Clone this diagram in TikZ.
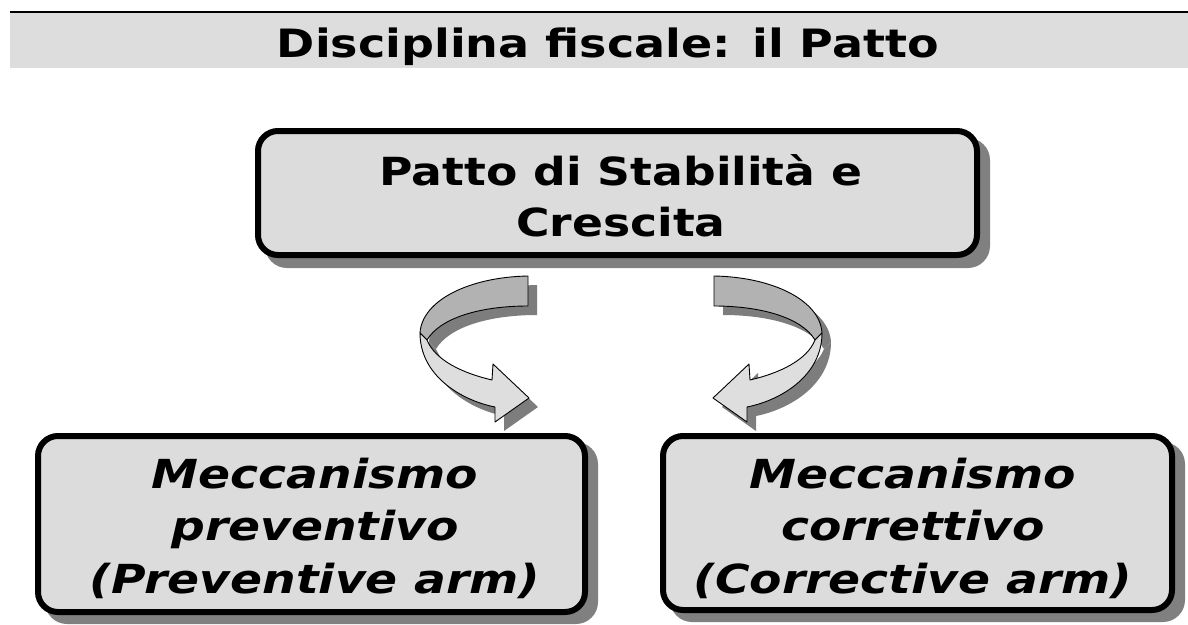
\documentclass[tikz,border=0pt]{standalone}
\usepackage{fontspec}
\setmainfont{DejaVu Sans}[FakeStretch=1.18]
\definecolor{boxgray}{RGB}{220,220,220}
\definecolor{bandgray}{RGB}{221,221,221}
\definecolor{shadowgray}{RGB}{128,128,128}
\definecolor{ribdark}{RGB}{178,178,178}
\definecolor{riblight}{RGB}{222,222,222}
\definecolor{ribshadow}{RGB}{125,125,125}
\begin{document}
\begin{tikzpicture}[x=1pt,y=-1pt,
  boxstyle/.style={draw=black, line width=6pt, rectangle, rounded corners=20pt, fill=boxgray, inner sep=0pt},
  shadowbox/.style={fill=shadowgray, rectangle, rounded corners=22pt, inner sep=0pt},
  titletext/.style={font=\fontsize{39}{46}\selectfont\bfseries, anchor=base, inner sep=0pt},
  toptext/.style={font=\fontsize{38.7}{46}\selectfont\bfseries, anchor=base, inner sep=0pt},
  bottext/.style={font=\fontsize{40}{48}\selectfont\bfseries\itshape, anchor=base, inner sep=0pt},
  ribsh/.style={fill=ribshadow, shift={(9,9)}},
  ribd/.style={fill=ribdark, draw=black, line width=0.9pt, line join=round},
  ribl/.style={fill=riblight, draw=black, line width=0.9pt, line join=round}]
\useasboundingbox (0,0) rectangle (1188,624);

% title band
\fill[bandgray] (10,13) rectangle (1188,68);
\draw[line width=2.5pt] (10,12) -- (1188,12);
\node[titletext] (title) at (608,57) {Disciplina fiscale: il Patto};

% shadows
\node[shadowbox, minimum width=725pt, minimum height=130pt] (topsh) at (627.5,203) {};
\node[shadowbox, minimum width=553pt, minimum height=182pt] (leftsh) at (321.5,533) {};
\node[shadowbox, minimum width=515pt, minimum height=180pt] (rightsh) at (927.5,532) {};

% boxes
\node[boxstyle, minimum width=719pt, minimum height=124pt] (top) at (617.5,193) {};
\node[boxstyle, minimum width=547pt, minimum height=176pt] (left) at (311.5,524) {};
\node[boxstyle, minimum width=509pt, minimum height=174pt] (right) at (917.5,523) {};

% texts
\node[toptext] (top1) at (621,185) {Patto di Stabilità e};
\node[toptext] (top2) at (621,236) {Crescita};
\node[bottext] (left1) at (315,488) {Meccanismo};
\node[bottext] (left2) at (315,540) {preventivo};
\node[bottext] (left3) at (315,593) {(Preventive arm)};
\node[bottext] (right1) at (913,488) {Meccanismo};
\node[bottext] (right2) at (913,540) {correttivo};
\node[bottext] (right3) at (913,593) {(Corrective arm)};

% left curved arrow
\fill[ribsh] (528,276) .. controls (470,277) and (422,300) .. (420,333) -- (427,340) .. controls (440,318) and (480,306) .. (528,306) -- cycle;
\fill[ribsh] (420,333) .. controls (420,375) and (460,400) .. (495,407) -- (495,422) -- (529,398) -- (493,364) -- (492,380) .. controls (462,373) and (435,360) .. (427,340) -- cycle;
\filldraw[ribd] (528,276) .. controls (470,277) and (422,300) .. (420,333) -- (427,340) .. controls (440,318) and (480,306) .. (528,306) -- cycle;
\filldraw[ribl] (420,333) .. controls (420,375) and (460,400) .. (495,407) -- (495,422) -- (529,398) -- (493,364) -- (492,380) .. controls (462,373) and (435,360) .. (427,340) -- cycle;

% right curved arrow
\fill[ribsh] (714,276) .. controls (772,277) and (820,300) .. (822,333) -- (815,340) .. controls (802,318) and (762,306) .. (714,306) -- cycle;
\fill[ribsh] (822,333) .. controls (822,375) and (782,400) .. (747,407) -- (747,422) -- (713,398) -- (749,364) -- (750,380) .. controls (780,373) and (807,360) .. (815,340) -- cycle;
\filldraw[ribd] (714,276) .. controls (772,277) and (820,300) .. (822,333) -- (815,340) .. controls (802,318) and (762,306) .. (714,306) -- cycle;
\filldraw[ribl] (822,333) .. controls (822,375) and (782,400) .. (747,407) -- (747,422) -- (713,398) -- (749,364) -- (750,380) .. controls (780,373) and (807,360) .. (815,340) -- cycle;
\end{tikzpicture}
\end{document}
